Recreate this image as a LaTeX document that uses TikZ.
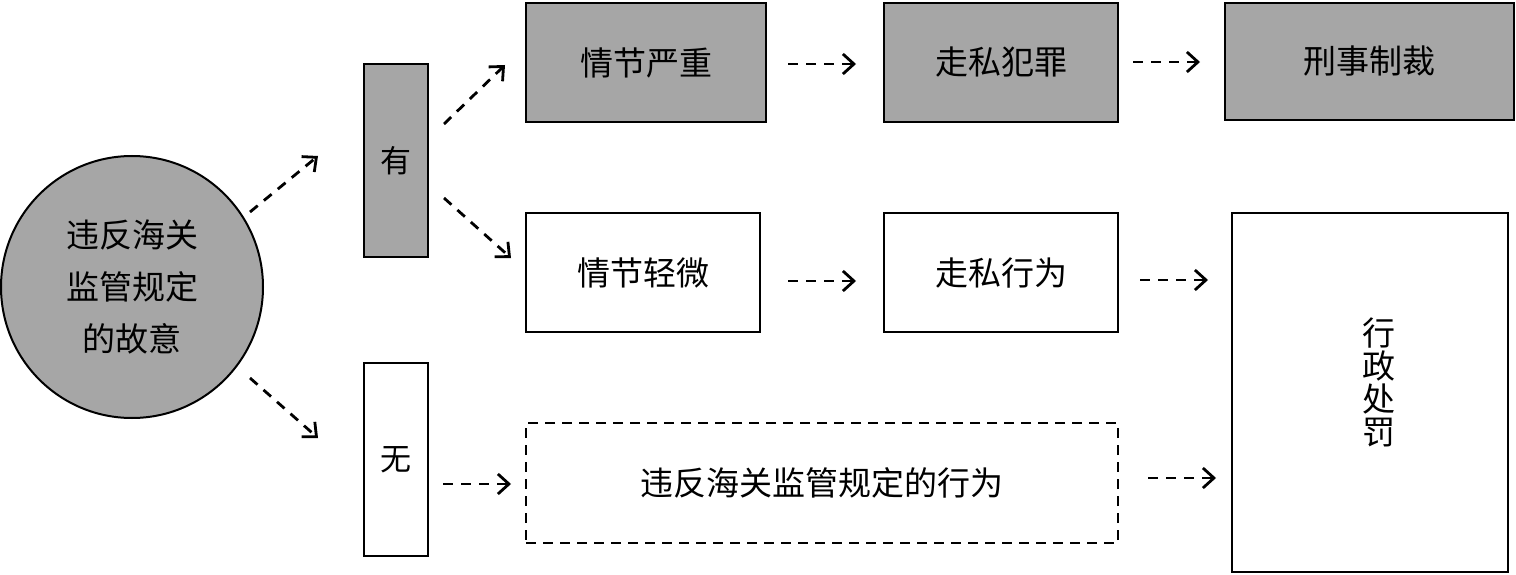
\documentclass[tikz,border=0pt]{standalone}
\usepackage{fontspec}
\setmainfont{Noto Sans CJK SC}
\usetikzlibrary{arrows.meta}
\definecolor{boxgray}{HTML}{A6A6A6}
\tikzset{
  x=1pt,y=-1pt,
  base/.style={draw=black,line width=2.8pt,inner sep=0pt,font=\fontsize{33}{38}\selectfont},
  graybox/.style={base,fill=boxgray,rectangle},
  whitebox/.style={base,fill=white,rectangle},
  dashbox/.style={base,fill=white,rectangle,dash pattern=on 10pt off 7pt},
  flow/.style={line width=2.8pt,dash pattern=on 10pt off 8pt,-{Straight Barb[length=11pt,width=20pt,line width=2.8pt]}}
}
\begin{document}
\begin{tikzpicture}
\useasboundingbox (0,0) rectangle (1516,575);
% nodes
\node[base,line width=2pt,circle,fill=boxgray,minimum size=262pt,align=center,
  font=\fontsize{33}{52}\selectfont] (c) at (132,287) {违反海关\\监管规定\\的故意};
\node[graybox,minimum width=64pt,minimum height=193pt,font=\fontsize{31}{36}\selectfont] (you) at (396,160.5) {有};
\node[whitebox,minimum width=64pt,minimum height=193pt,font=\fontsize{31}{36}\selectfont] (wu) at (396,459.5) {无};
\node[graybox,minimum width=240pt,minimum height=119pt] (qy) at (646,62.5) {情节严重};
\node[graybox,minimum width=234pt,minimum height=119pt] (zf) at (1001,62.5) {走私犯罪};
\node[graybox,minimum width=289pt,minimum height=117pt] (xs) at (1369.5,61.5) {刑事制裁};
\node[whitebox,minimum width=234pt,minimum height=119pt] (qq) at (643,272.5) {情节轻微};
\node[whitebox,minimum width=234pt,minimum height=119pt] (zx) at (1001,272.5) {走私行为};
\node[whitebox,minimum width=276pt,minimum height=359pt] (xz) at (1370,392.5) {};
\node[font=\fontsize{33}{33}\selectfont,align=center,inner sep=0pt] (xzt) at (1379,382) {行\\政\\处\\罚};
\node[dashbox,minimum width=592pt,minimum height=120pt] (wf) at (822,483) {违反海关监管规定的行为};
% connector end points
\coordinate (a1s) at (250,212); \coordinate (a1e) at (318,156);
\coordinate (a2s) at (250,378); \coordinate (a2e) at (318,438);
\coordinate (a3s) at (444,124); \coordinate (a3e) at (505,65);
\coordinate (a4s) at (444,198); \coordinate (a4e) at (511,258);
\coordinate (a5s) at (788,64);  \coordinate (a5e) at (856,64);
\coordinate (a6s) at (1133,62); \coordinate (a6e) at (1200,62);
\coordinate (a7s) at (788,281); \coordinate (a7e) at (856,281);
\coordinate (a8s) at (1140,280); \coordinate (a8e) at (1208,280);
\coordinate (a9s) at (443,484); \coordinate (a9e) at (511,484);
\coordinate (a10s) at (1148,478); \coordinate (a10e) at (1216,478);
% connectors
\draw[flow] (a1s) -- (a1e);
\draw[flow] (a2s) -- (a2e);
\draw[flow] (a3s) -- (a3e);
\draw[flow] (a4s) -- (a4e);
\draw[flow] (a5s) -- (a5e);
\draw[flow] (a6s) -- (a6e);
\draw[flow] (a7s) -- (a7e);
\draw[flow] (a8s) -- (a8e);
\draw[flow] (a9s) -- (a9e);
\draw[flow] (a10s) -- (a10e);
\end{tikzpicture}
\end{document}
